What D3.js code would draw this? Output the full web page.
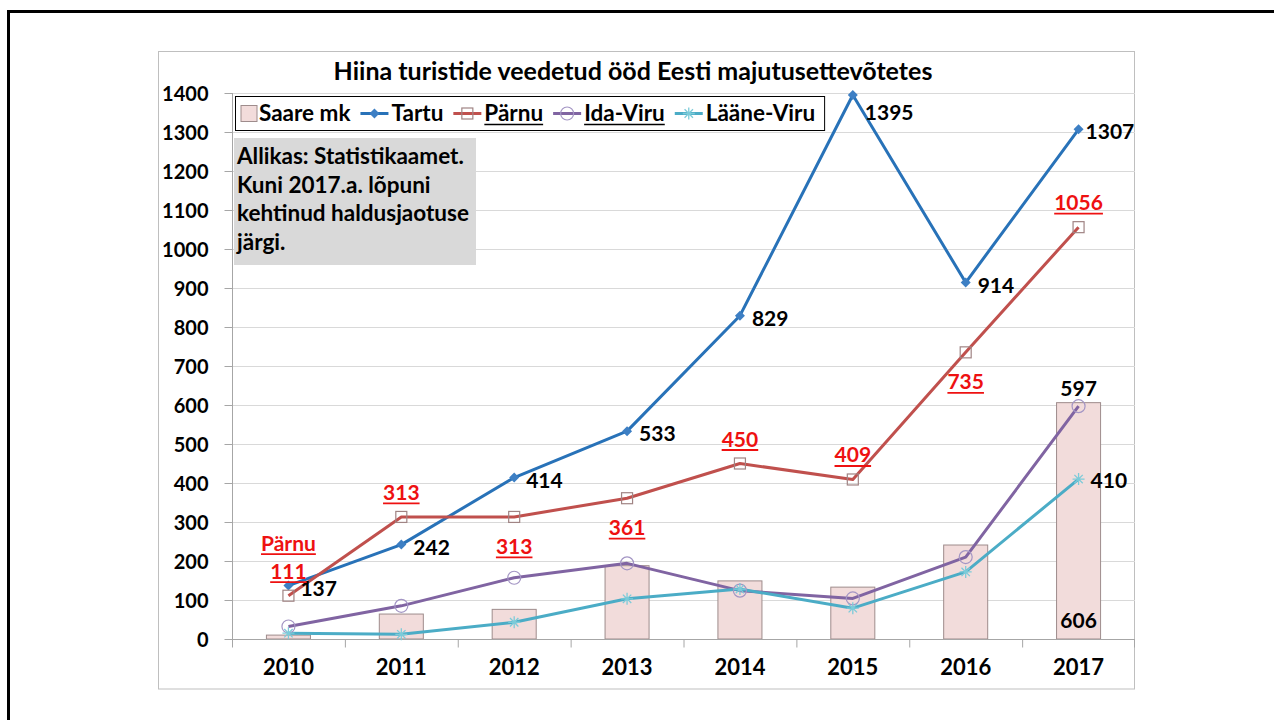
<!DOCTYPE html>
<html><head><meta charset="utf-8">
<script src="https://cdn.jsdelivr.net/npm/d3@7"></script>
<style>body{margin:0;background:#fff}svg text{font-family:Lato,'Open Sans',sans-serif;font-weight:bold}</style>
</head><body><svg id="c" width="1274" height="720"></svg>
<script>
// ---- data ----
const years = ["2010","2011","2012","2013","2014","2015","2016","2017"];
const saare = [10,64,76,188,149,133,241,606];
const tartu = [137,242,414,533,829,1395,914,1307];
const parnu = [111,313,313,361,450,409,735,1056];
const idaViru = [32,85,157,194,124,104,210,597];
const laaneViru = [15,12,43,103,128,79,172,410];
const yTicks = d3.range(0, 1401, 100);
const seriesNames = ["Saare mk","Tartu","Pärnu","Ida-Viru","Lääne-Viru"];
const title = "Hiina turistide veedetud ööd Eesti majutusettevõtetes";
const note = ["Allikas: Statistikaamet.","Kuni 2017.a. lõpuni","kehtinud haldusjaotuse","järgi."];
const parnuLabelSide = ["above","above","below","below","above","above","below","above"];

// ---- layout / style ----
const C = {tartu:"#2872b8", parnu:"#c0504d", ida:"#8064a2", laane:"#4bacc6", red:"#ee1111"};
const svg = d3.select("#c");
const L = 232, R = 1135, B = 639, T = 93;
const x = d3.scaleBand().domain(years).range([L, R]);
const cx = d => x(d) + x.bandwidth()/2;
const y = d3.scaleLinear().domain([0, 1400]).range([B, T]);

// frames
svg.append("rect").attr("x",8.5).attr("y",11.5).attr("width",1400).attr("height",900)
  .attr("fill","none").attr("stroke","#000").attr("stroke-width",3);
svg.append("rect").attr("x",158.5).attr("y",51.5).attr("width",976).attr("height",637.5)
  .attr("fill","#fff").attr("stroke","#bfbfbf");

// gridlines
svg.append("g").selectAll("line").data(yTicks.filter(d=>d>0)).join("line")
  .attr("x1",L).attr("x2",R).attr("y1",d=>y(d)+0.5).attr("y2",d=>y(d)+0.5)
  .attr("stroke","#d9d9d9").attr("stroke-width",1);

// y axis
const ya = svg.append("g").attr("transform",`translate(${L+0.5},0)`)
  .call(d3.axisLeft(y).tickValues(yTicks).tickSize(8).tickPadding(16).tickFormat(d3.format("d")));
ya.select(".domain").attr("stroke","#a6a6a6").attr("d",`M0,${T}V${B+8}`);
ya.selectAll(".tick line").attr("stroke","#a6a6a6");
ya.selectAll("text").attr("font-size",20).attr("fill","#000").attr("dy","0.36em")
  .style("font-family","Lato,sans-serif").style("font-weight","bold");

// bars
svg.append("g").selectAll("rect").data(years).join("rect")
  .attr("x",(d)=>cx(d)-x.bandwidth()*0.195).attr("width",x.bandwidth()*0.39)
  .attr("y",(d,i)=>y(saare[i])).attr("height",(d,i)=>B-y(saare[i]))
  .attr("fill","#f2dcdb").attr("stroke","#9e8c8c").attr("stroke-width",1);

// x axis
const xa = svg.append("g").attr("transform",`translate(0,${B+0.5})`);
xa.append("line").attr("x1",L).attr("x2",R).attr("stroke","#a6a6a6");
xa.selectAll(".tk").data(years.concat(["end"])).join("line").attr("class","tk")
  .attr("x1",(d,i)=>i<years.length? x(d)+0.5 : R-0.5).attr("x2",(d,i)=>i<years.length? x(d)+0.5 : R-0.5)
  .attr("y1",0).attr("y2",8).attr("stroke","#a6a6a6");
xa.selectAll("text").data(years).join("text").attr("x",cx).attr("y",35)
  .attr("text-anchor","middle").attr("font-size",22).attr("fill","#000").text(d=>d);

// lines
const line = (vals) => d3.line().x((d,i)=>cx(years[i])).y(d=>y(d))(vals);
const gL = svg.append("g");
[[tartu,C.tartu],[parnu,C.parnu],[idaViru,C.ida],[laaneViru,C.laane]].forEach(([v,c])=>{
  gL.append("path").attr("d",line(v)).attr("fill","none").attr("stroke",c).attr("stroke-width",3)
    .attr("stroke-linejoin","round");
});

// markers
function diamond(g,px,py,s){ g.append("path").attr("d",`M${px},${py-s}L${px+s},${py}L${px},${py+s}L${px-s},${py}Z`).attr("fill","#3d7fc4"); }
function square(g,px,py,s){ g.append("rect").attr("x",px-s).attr("y",py-s).attr("width",2*s).attr("height",2*s).attr("fill","none").attr("stroke","#a08484").attr("stroke-width",1.2); }
function circle(g,px,py,r){ g.append("circle").attr("cx",px).attr("cy",py).attr("r",r).attr("fill","none").attr("stroke","#a395c4").attr("stroke-width",1.2); }
function star(g,px,py,s){ const p=`M${px-s},${py}H${px+s}M${px},${py-s}V${py+s}M${px-s*0.7},${py-s*0.7}L${px+s*0.7},${py+s*0.7}M${px-s*0.7},${py+s*0.7}L${px+s*0.7},${py-s*0.7}`;
  g.append("path").attr("d",p).attr("stroke","#7ccbd9").attr("stroke-width",1.3).attr("fill","none"); }
const gM = svg.append("g");
years.forEach((yr,i)=>{
  diamond(gM,cx(yr),y(tartu[i]),5);
  square(gM,cx(yr),y(parnu[i]),5.5);
  circle(gM,cx(yr),y(idaViru[i]),6.5);
  star(gM,cx(yr),y(laaneViru[i]),6);
});

// labels
const gT = svg.append("g");
function lab(txt,px,py,opts={}){
  const t = gT.append("text").attr("x",px).attr("y",py).attr("font-size",opts.size||21)
    .attr("fill",opts.fill||"#000").attr("text-anchor",opts.anchor||"start").text(txt);
  if(opts.underline){
    const w = t.node().getComputedTextLength();
    const x0 = opts.anchor==="middle"? px-w/2 : px;
    gT.append("line").attr("x1",x0).attr("x2",x0+w).attr("y1",py+3.5).attr("y2",py+3.5)
      .attr("stroke",opts.fill||"#000").attr("stroke-width",1.8);
  }
  return t;
}
years.forEach((yr,i)=>{
  const dx = i===years.length-1 ? 7 : 12;
  const dy = tartu[i]===d3.max(tartu) ? 25 : 10;
  lab(tartu[i], cx(yr)+dx, y(tartu[i])+dy);
  const py = parnuLabelSide[i]==="above" ? y(parnu[i])-17 : y(parnu[i])+37;
  lab(parnu[i], cx(yr), py, {fill:C.red, anchor:"middle", underline:true, size:21});
});
lab(seriesNames[2], cx(years[0]), y(parnu[0])-45, {fill:C.red, anchor:"middle", underline:true, size:21});
const li = years.length-1;
lab(idaViru[li], cx(years[li]), y(idaViru[li])-10, {anchor:"middle"});
lab(laaneViru[li], cx(years[li])+12, y(laaneViru[li])+9);
lab(saare[li], cx(years[li]), B-11, {anchor:"middle"});

// title
svg.append("text").attr("x",633).attr("y",80).attr("text-anchor","middle")
  .attr("font-size",25).attr("fill","#000").text(title);

// note box
const nb = svg.append("g");
nb.append("rect").attr("x",234).attr("y",138).attr("width",242).attr("height",127).attr("fill","#d9d9d9");
note.forEach((s,i)=> nb.append("text").attr("x",237).attr("y",164+i*28.5).attr("font-size",22.5).attr("fill","#000").text(s));

// legend
const lg = svg.append("g");
const lbox = lg.append("rect").attr("x",235.5).attr("y",96.5).attr("height",34).attr("fill","#fff").attr("stroke","#000");
let cur = 241; const ly = 113.5;
const markerFns = [null,(g,px)=>diamond(g,px,ly,5),(g,px)=>square(g,px,ly,5.5),(g,px)=>circle(g,px,ly,6.5),(g,px)=>star(g,px,ly,6)];
const lineCols = [null,C.tartu,C.parnu,C.ida,C.laane];
seriesNames.forEach((nm,i)=>{
  if(i===0){
    lg.append("rect").attr("x",cur).attr("y",ly-8).attr("width",16).attr("height",16).attr("fill","#f2dcdb").attr("stroke","#9e8c8c");
    cur += 18;
  } else {
    lg.append("line").attr("x1",cur).attr("x2",cur+28).attr("y1",ly).attr("y2",ly).attr("stroke",lineCols[i]).attr("stroke-width",3);
    markerFns[i](lg,cur+14);
    cur += 31;
  }
  const t = lg.append("text").attr("x",cur).attr("y",ly+7.5).attr("font-size",22.5).attr("fill","#000").text(nm);
  const w = t.node().getComputedTextLength();
  if(i===2||i===3) lg.append("line").attr("x1",cur).attr("x2",cur+w).attr("y1",ly+11).attr("y2",ly+11).attr("stroke","#000").attr("stroke-width",1.6);
  cur += w + 10;
});
lbox.attr("width", cur - 236);
</script></body></html>
